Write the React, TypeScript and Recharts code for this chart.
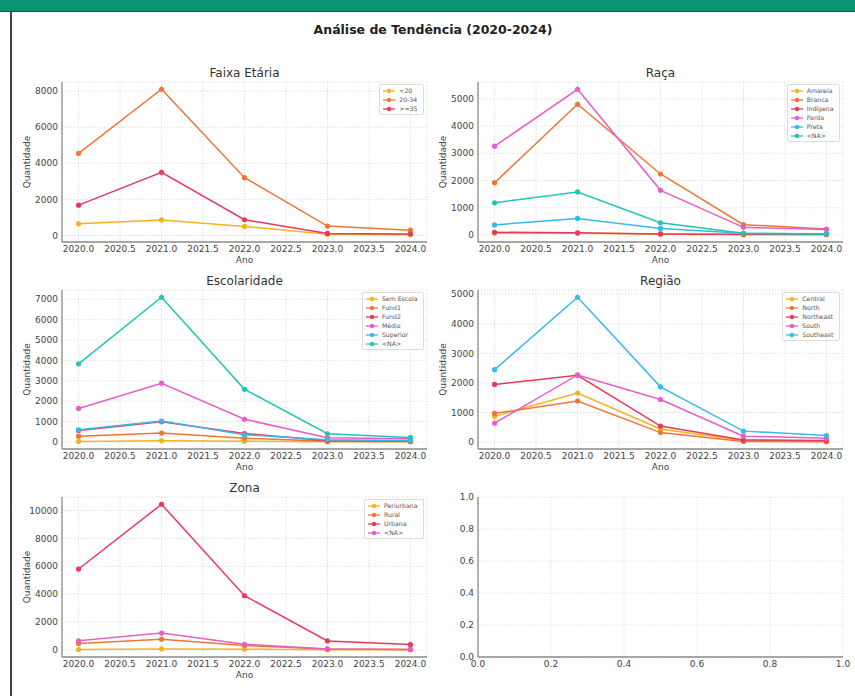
import React from 'react'
import { LineChart, Line, XAxis, YAxis, CartesianGrid, Legend } from 'recharts'

const years = [2020, 2021, 2022, 2023, 2024]
const xTicks = [2020, 2020.5, 2021, 2021.5, 2022, 2022.5, 2023, 2023.5, 2024]

const faixaNames = ['<20', '20-34', '>=35']
const faixaMenos20 = [650, 860, 500, 60, 40]
const faixa2034 = [4550, 8100, 3200, 520, 290]
const faixa35 = [1680, 3500, 870, 110, 80]
const faixaTicks = [0, 2000, 4000, 6000, 8000]

const racaNames = ['Amarela', 'Branca', 'Indígena', 'Parda', 'Preta', '<NA>']
const racaAmarela = [70, 60, 30, 10, 10]
const racaBranca = [1920, 4800, 2240, 380, 220]
const racaIndigena = [100, 80, 40, 25, 20]
const racaParda = [3260, 5350, 1640, 280, 200]
const racaPreta = [370, 610, 240, 60, 50]
const racaNA = [1180, 1580, 450, 60, 40]
const racaTicks = [0, 1000, 2000, 3000, 4000, 5000]

const escNames = ['Sem Escola', 'Fund1', 'Fund2', 'Médio', 'Superior', '<NA>']
const escSemEscola = [20, 50, 30, 5, 5]
const escFund1 = [280, 430, 180, 30, 20]
const escFund2 = [560, 990, 410, 60, 40]
const escMedio = [1640, 2880, 1110, 200, 150]
const escSuperior = [590, 1020, 350, 100, 65]
const escNA = [3830, 7100, 2580, 400, 220]
const escTicks = [0, 1000, 2000, 3000, 4000, 5000, 6000, 7000]

const regNames = ['Central', 'North', 'Northeast', 'South', 'Southeast']
const regCentral = [870, 1660, 440, 50, 35]
const regNorth = [970, 1390, 320, 20, 10]
const regNortheast = [1950, 2260, 540, 70, 55]
const regSouth = [640, 2270, 1440, 200, 130]
const regSoutheast = [2450, 4900, 1870, 370, 220]
const regTicks = [0, 1000, 2000, 3000, 4000, 5000]

const zonaNames = ['Periurbana', 'Rural', 'Urbana', '<NA>']
const zonaPeriurbana = [20, 60, 40, 10, 5]
const zonaRural = [450, 760, 300, 50, 25]
const zonaUrbana = [5800, 10450, 3880, 640, 380]
const zonaNA = [650, 1200, 400, 60, 25]
const zonaTicks = [0, 2000, 4000, 6000, 8000, 10000]

// empty 6th subplot, matplotlib default 0..1 axes
const unitBounds = [0, 1]
const unitTicks = [0, 0.2, 0.4, 0.6, 0.8, 1]

const palette = ['#f5b21f', '#ee7733', '#e63a5c', '#e95dca', '#38b9ea', '#22c5b5']

const PLOT_W = 365
const Y_W = 70
const M_TOP = 8
const M_RIGHT = 14
const X_H = 36
const tickStyle = { fontSize: 9, fill: '#444' }
const axisStroke = { stroke: '#8c8c8c', strokeWidth: 1.3 }

function LegendBox({ names }: { names: string[] }) {
  return (
    <div
      style={{
        border: '1px solid #dcdcdc',
        borderRadius: 2,
        background: 'rgba(255,255,255,0.85)',
        padding: '1px 5px 1px 3px',
      }}
    >
      {names.map((n, i) => (
        <div key={n} style={{ display: 'flex', alignItems: 'center', height: 9 }}>
          <svg width={12} height={6}>
            <line x1={0} y1={3} x2={12} y2={3} stroke={palette[i]} strokeWidth={1.3} />
            <circle cx={6} cy={3} r={2.2} fill={palette[i]} />
          </svg>
          <span style={{ fontSize: 6.2, color: '#555', marginLeft: 4, whiteSpace: 'nowrap', lineHeight: '9px' }}>
            {n}
          </span>
        </div>
      ))}
    </div>
  )
}

interface PanelProps {
  title: string
  names: string[]
  series: number[][]
  yTicks: number[]
  plotLeft: number
  plotTop: number
  plotH: number
}

function Panel({ title, names, series, yTicks, plotLeft, plotTop, plotH }: PanelProps) {
  const data = years.map((ano, i) => {
    const row: Record<string, number> = { ano }
    series.forEach((s, k) => (row['s' + k] = s[i]))
    return row
  })
  const all = series.flat()
  const lo = Math.min(...all)
  const hi = Math.max(...all)
  const pad = (hi - lo) * 0.05

  return (
    <>
      <div
        style={{
          position: 'absolute',
          left: plotLeft,
          top: plotTop - 17,
          width: PLOT_W,
          textAlign: 'center',
          fontSize: 12,
          lineHeight: '16px',
          color: '#333',
        }}
      >
        {title}
      </div>
      <div style={{ position: 'absolute', left: plotLeft - Y_W, top: plotTop - M_TOP }}>
        <LineChart
          width={Y_W + PLOT_W + M_RIGHT}
          height={M_TOP + plotH + X_H}
          data={data}
          margin={{ top: M_TOP, right: M_RIGHT, left: 0, bottom: 0 }}
        >
          <CartesianGrid stroke="#d4d4d4" strokeDasharray="1.5 1.5" strokeWidth={0.7} />
          <XAxis
            dataKey="ano"
            type="number"
            domain={[2019.8, 2024.2]}
            ticks={xTicks}
            allowDataOverflow
            tickFormatter={(v: number) => v.toFixed(1)}
            height={X_H}
            tick={tickStyle}
            tickLine={false}
            tickSize={0}
            tickMargin={4}
            axisLine={axisStroke}
            interval={0}
            label={{ value: 'Ano', position: 'center', fontSize: 9, fill: '#444' }}
          />
          <YAxis
            type="number"
            domain={[lo - pad, hi + pad]}
            ticks={yTicks}
            allowDataOverflow
            width={Y_W}
            tick={tickStyle}
            tickLine={false}
            tickSize={0}
            tickMargin={4}
            axisLine={axisStroke}
            interval={0}
            label={{ value: 'Quantidade', angle: -90, position: 'center', fontSize: 9, fill: '#444' }}
          />
          <Legend
            layout="vertical"
            align="center"
            verticalAlign="middle"
            content={() => <LegendBox names={names} />}
            wrapperStyle={{ left: 'auto', right: M_RIGHT + 3.5, top: M_TOP + 2, bottom: 'auto', width: 'auto' }}
          />
          {names.map((n, k) => (
            <Line
              key={n}
              dataKey={'s' + k}
              name={n}
              stroke={palette[k]}
              strokeWidth={1.5}
              dot={{ r: 2.6, fill: palette[k], stroke: palette[k], strokeWidth: 0 }}
              activeDot={false}
              isAnimationActive={false}
            />
          ))}
        </LineChart>
      </div>
    </>
  )
}

function EmptyPanel({ plotLeft, plotTop, plotH }: { plotLeft: number; plotTop: number; plotH: number }) {
  const data = unitBounds.map((v) => ({ x: v, y: v }))
  return (
    <div style={{ position: 'absolute', left: plotLeft - Y_W, top: plotTop - M_TOP }}>
      <LineChart
        width={Y_W + PLOT_W + M_RIGHT}
        height={M_TOP + plotH + X_H}
        data={data}
        margin={{ top: M_TOP, right: M_RIGHT, left: 0, bottom: 0 }}
      >
        <CartesianGrid stroke="#d4d4d4" strokeDasharray="1.5 1.5" strokeWidth={0.7} />
        <XAxis
          dataKey="x"
          type="number"
          domain={[0, 1]}
          ticks={unitTicks}
          tickFormatter={(v: number) => v.toFixed(1)}
          height={X_H}
          tick={tickStyle}
          tickLine={false}
          tickSize={0}
          tickMargin={4}
          axisLine={axisStroke}
          interval={0}
        />
        <YAxis
          type="number"
          domain={[0, 1]}
          ticks={unitTicks}
          allowDataOverflow
          tickFormatter={(v: number) => v.toFixed(1)}
          width={Y_W}
          tick={tickStyle}
          tickLine={false}
          tickSize={0}
          tickMargin={4}
          axisLine={axisStroke}
          interval={0}
        />
        {/* invisible series so the empty axes get a scale, as in the empty matplotlib subplot */}
        <Line dataKey="y" stroke="none" dot={false} activeDot={false} legendType="none" isAnimationActive={false} />
      </LineChart>
    </div>
  )
}

export default function App() {
  return (
    <div
      style={{
        position: 'absolute',
        left: 0,
        top: 0,
        width: 855,
        height: 696,
        overflow: 'hidden',
        background: '#fff',
        fontFamily: '"DejaVu Sans", sans-serif',
      }}
    >
      <div style={{ position: 'absolute', left: 0, top: 0, width: 855, height: 11, background: '#0a9370', borderBottom: '1px solid #1f5a45' }} />
      <div style={{ position: 'absolute', left: 10, top: 12, width: 1.5, height: 684, background: '#444' }} />
      <div
        style={{
          position: 'absolute',
          left: 0,
          top: 22,
          width: 866,
          textAlign: 'center',
          fontSize: 12.5,
          fontWeight: 'bold',
          lineHeight: '16px',
          color: '#222',
        }}
      >
        Análise de Tendência (2020-2024)
      </div>

      <Panel
        title="Faixa Etária"
        names={faixaNames}
        series={[faixaMenos20, faixa2034, faixa35]}
        yTicks={faixaTicks}
        plotLeft={62}
        plotTop={82}
        plotH={160}
      />
      <Panel
        title="Raça"
        names={racaNames}
        series={[racaAmarela, racaBranca, racaIndigena, racaParda, racaPreta, racaNA]}
        yTicks={racaTicks}
        plotLeft={478}
        plotTop={82}
        plotH={160}
      />
      <Panel
        title="Escolaridade"
        names={escNames}
        series={[escSemEscola, escFund1, escFund2, escMedio, escSuperior, escNA]}
        yTicks={escTicks}
        plotLeft={62}
        plotTop={290}
        plotH={159}
      />
      <Panel
        title="Região"
        names={regNames}
        series={[regCentral, regNorth, regNortheast, regSouth, regSoutheast]}
        yTicks={regTicks}
        plotLeft={478}
        plotTop={290}
        plotH={159}
      />
      <Panel
        title="Zona"
        names={zonaNames}
        series={[zonaPeriurbana, zonaRural, zonaUrbana, zonaNA]}
        yTicks={zonaTicks}
        plotLeft={62}
        plotTop={497}
        plotH={160}
      />
      <EmptyPanel plotLeft={478} plotTop={497} plotH={160} />
    </div>
  )
}
